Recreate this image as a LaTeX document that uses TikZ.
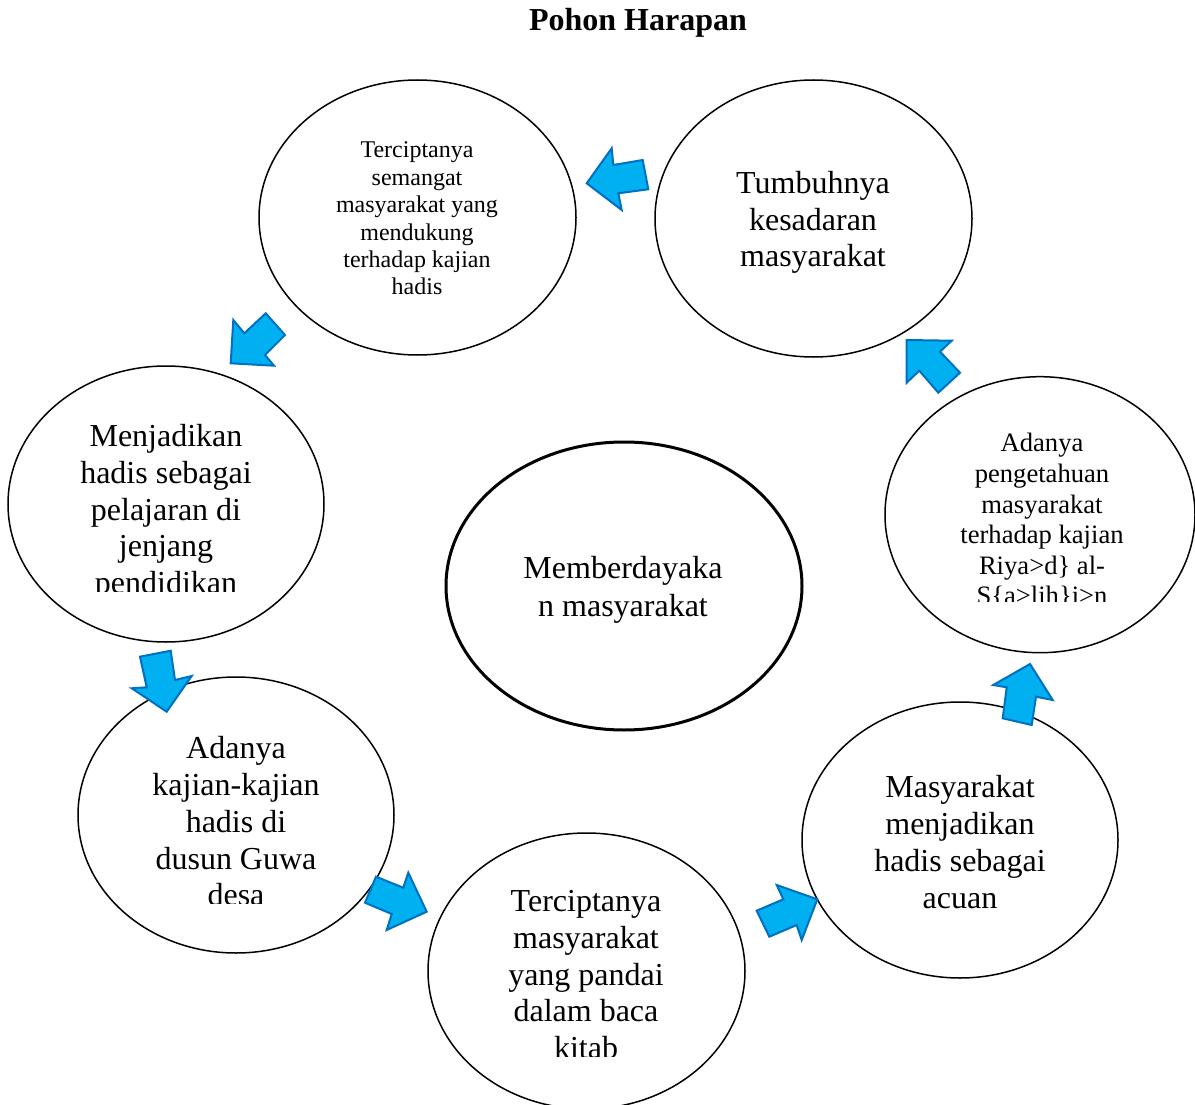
\documentclass[tikz,border=0pt]{standalone}
\usepackage{fontspec}
\setmainfont{Liberation Serif}
\usetikzlibrary{shapes.geometric}
\definecolor{arrfill}{HTML}{00B0F0}
\definecolor{arrline}{HTML}{0070C0}
\tikzset{
  bubble/.style={ellipse, draw=black, line width=1.5pt, fill=white, inner sep=0pt},
  centerbubble/.style={ellipse, draw=black, line width=3pt, fill=white, inner sep=0pt},
  bigtext/.style={align=center, inner sep=0pt, font=\fontsize{32}{36.8}\selectfont},
  smalltext/.style={align=center, inner sep=0pt, font=\fontsize{24}{27.4}\selectfont},
  midtext/.style={align=center, inner sep=0pt, font=\fontsize{26.6}{30.6}\selectfont},
  blockarrow/.style={fill=arrfill, draw=arrline, line width=2pt, line join=miter}
}
\begin{document}
\begin{tikzpicture}[x=1pt,y=-1pt]
\useasboundingbox (0,0) rectangle (1195,1105);
\node[font=\bfseries\fontsize{32}{37}\selectfont, anchor=base, inner sep=0pt] (title) at (638,30.7) {Pohon Harapan};

% ellipses
\node[bubble, minimum width=317pt, minimum height=275pt] (e1) at (417.5,217.5) {};
\node[bubble, minimum width=317pt, minimum height=277pt] (e2) at (813.5,218.5) {};
\node[bubble, minimum width=316pt, minimum height=276pt] (e3) at (166,504) {};
\node[bubble, minimum width=316pt, minimum height=276pt] (e4) at (236,815) {};
\node[bubble, minimum width=317pt, minimum height=276pt] (e5) at (586.5,971) {};
\node[bubble, minimum width=316pt, minimum height=276pt] (e6) at (960,840) {};
\node[bubble, minimum width=310pt, minimum height=276pt] (e7) at (1040,514.7) {};
\node[centerbubble, minimum width=356pt, minimum height=288pt] (e8) at (624,586) {};

% texts
\node[smalltext] (t1) at (417,218.5) {Terciptanya\\semangat\\masyarakat yang\\mendukung\\terhadap kajian\\hadis};
\node[bigtext] (t2) at (813,222.5) {Tumbuhnya\\kesadaran\\masyarakat};
\begin{scope}
  \clip (0,380) rectangle (330,591.7);
  \node[bigtext] (t3) at (166,512.5) {Menjadikan\\hadis sebagai\\pelajaran di\\jenjang\\pendidikan};
\end{scope}
\begin{scope}
  \clip (70,700) rectangle (400,903.3);
  \node[bigtext] (t4) at (236,821.4) {Adanya\\kajian-kajian\\hadis di\\dusun Guwa\\desa};
\end{scope}
\begin{scope}
  \clip (420,850) rectangle (750,1056.7);
  \node[bigtext] (t5) at (586,974.6) {Terciptanya\\masyarakat\\yang pandai\\dalam baca\\kitab};
\end{scope}
\node[bigtext] (t6) at (960,842) {Masyarakat\\menjadikan\\hadis sebagai\\acuan};
\begin{scope}
  \clip (880,400) rectangle (1195,601.7);
  \node[midtext] (t7) at (1042,521) {Adanya\\pengetahuan\\masyarakat\\terhadap kajian\\Riya>d\} al-\\S\{a>lih\}i>n};
\end{scope}
\node[bigtext, font=\fontsize{32}{38}\selectfont] (t8) at (623,589.5) {Memberdayaka\\n masyarakat};

% block arrows
\draw[blockarrow] (586.7,183.3) -- (611.7,148.3) -- (613.3,165) -- (642.7,160) -- (648.3,189.3) -- (618.3,193.3) -- (621.7,210) -- cycle;
\draw[blockarrow] (230.7,363.3) -- (233.3,320) -- (244.3,333.3) -- (265.7,313.3) -- (285,335) -- (265,355) -- (274,365.7) -- cycle;
\draw[blockarrow] (166.7,711.7) -- (131.7,688.3) -- (146.7,687.3) -- (140,656.7) -- (170.7,650.7) -- (175,680) -- (191.7,676) -- cycle;
\draw[blockarrow] (426.7,911.7) -- (386.7,930) -- (391.7,914) -- (365,902.7) -- (376,876.7) -- (403.3,887.7) -- (408.3,872.7) -- cycle;
\draw[blockarrow] (817.3,899.3) -- (801.7,940) -- (796.7,925) -- (769.3,936.7) -- (756.7,910.7) -- (783.3,899.3) -- (776.7,885) -- cycle;
\draw[blockarrow] (1030,664) -- (1052.7,700) -- (1036,696.7) -- (1031.7,725) -- (1002.7,718.3) -- (1006.7,687.3) -- (993.3,685) -- cycle;
\draw[blockarrow] (906.7,340) -- (951.7,340.7) -- (940,351.7) -- (960,372.7) -- (938.3,392.7) -- (919.3,370.7) -- (906.7,382.7) -- cycle;
\end{tikzpicture}
\end{document}
